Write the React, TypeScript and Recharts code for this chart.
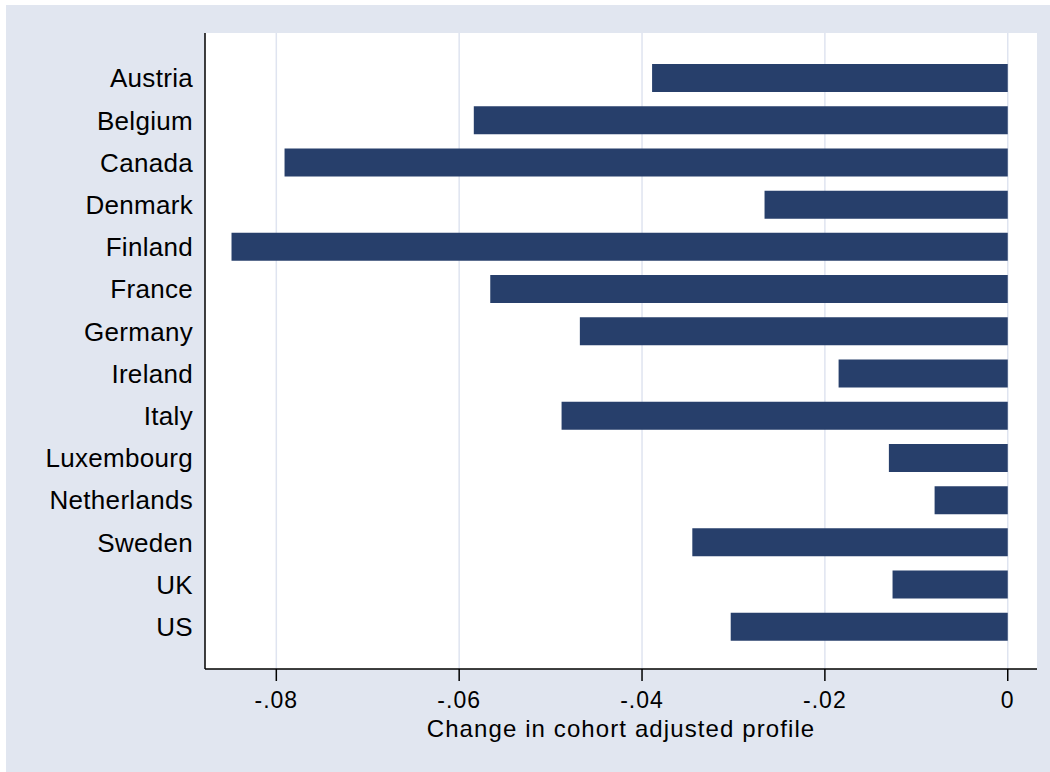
import { BarChart, Bar, XAxis, YAxis, CartesianGrid } from "recharts";

const countries = [
  "Austria",
  "Belgium",
  "Canada",
  "Denmark",
  "Finland",
  "France",
  "Germany",
  "Ireland",
  "Italy",
  "Luxembourg",
  "Netherlands",
  "Sweden",
  "UK",
  "US",
];

const changes = [
  -0.0389, -0.0584, -0.0791, -0.0266, -0.0849, -0.0566, -0.0468, -0.0185, -0.0488, -0.013,
  -0.008, -0.0345, -0.0126, -0.0303,
];

const xTicks = [-0.08, -0.06, -0.04, -0.02, 0];

const data = countries.map((country, i) => ({ country, change: changes[i] }));

const fmt = (v: number) => (v === 0 ? "0" : v.toFixed(2).replace("0.", "."));

const font = "'Liberation Sans', Arial, sans-serif";

export default function App() {
  return (
    <div style={{ position: "absolute", left: 0, top: 0, width: 1050, height: 772, background: "#fff" }}>
      <div style={{ position: "absolute", left: 6, top: 5, width: 1044, height: 767, background: "#e1e6f0" }}>
        <BarChart
          width={1044}
          height={767}
          data={data}
          layout="vertical"
          margin={{ top: 28, right: 13, left: 0, bottom: 0 }}
        >
          <CartesianGrid
            horizontal={false}
            fill="#ffffff"
            stroke="#dfe4f0"
            strokeWidth={1.5}
            verticalValues={xTicks}
          />
          <XAxis
            type="number"
            domain={[-0.0878, 0.0032]}
            allowDataOverflow
            ticks={xTicks}
            tickFormatter={fmt}
            height={103}
            axisLine={{ stroke: "#000", strokeWidth: 1.5 }}
            tickLine={{ stroke: "#000", strokeWidth: 1.5 }}
            tickSize={12}
            tickMargin={11}
            tick={{ fill: "#000", fontSize: 23, fontFamily: font, letterSpacing: 1 }}
            label={{
              value: "Change in cohort adjusted profile",
              position: "insideBottom",
              offset: 35,
              fill: "#000",
              fontSize: 24,
              fontFamily: font,
              letterSpacing: 1.1,
            }}
          />
          <YAxis
            type="category"
            dataKey="country"
            width={199}
            padding={{ top: 24, bottom: 21 }}
            axisLine={{ stroke: "#000", strokeWidth: 1.5 }}
            tickLine={false}
            tickSize={0}
            tickMargin={12}
            interval={0}
            tick={{ fill: "#000", fontSize: 26, fontFamily: font, letterSpacing: 0.3 }}
          />
          <Bar dataKey="change" fill="#273f6b" barSize={28} isAnimationActive={false} />
        </BarChart>
      </div>
    </div>
  );
}
